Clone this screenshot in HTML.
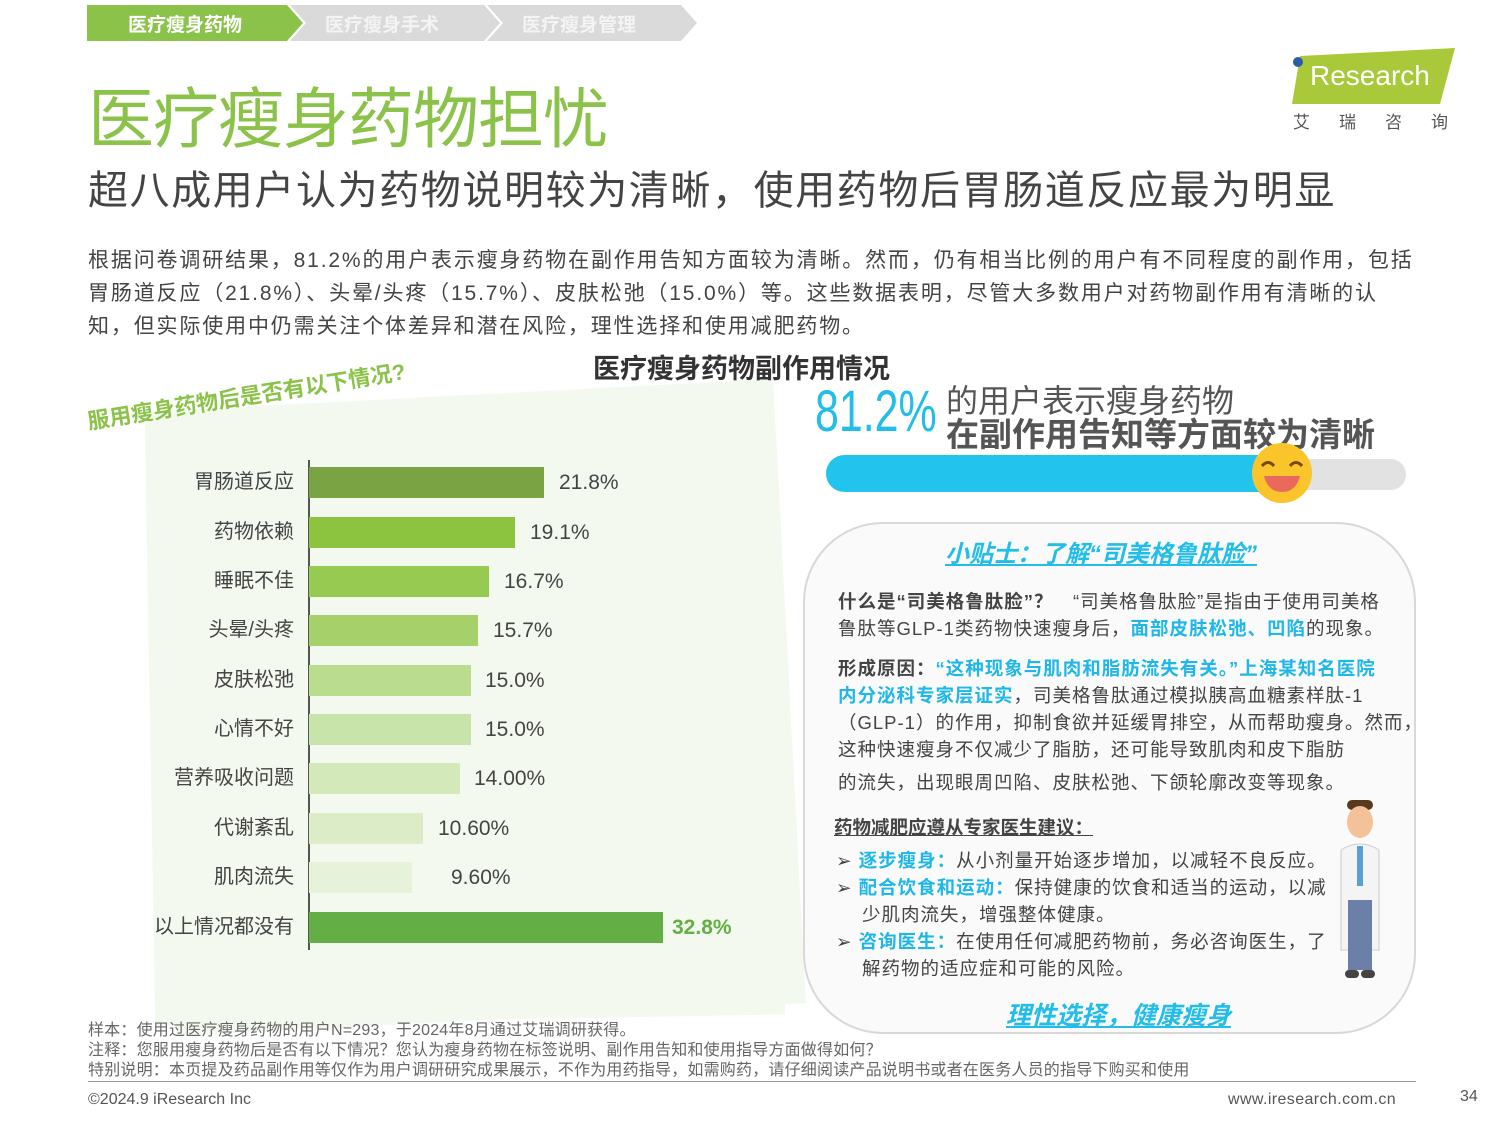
<!DOCTYPE html>
<html><head><meta charset="utf-8"><style>
*{margin:0;padding:0;box-sizing:border-box}
body{width:1500px;height:1125px;background:#fff;position:relative;overflow:hidden;font-family:"Liberation Sans","Noto Sans CJK SC",sans-serif;color:#3c3c3c}
.a{position:absolute;white-space:nowrap}
.bar{position:absolute;left:309px;height:31px}
.lab{position:absolute;right:1206px;font-size:20px;color:#444;line-height:31px;text-align:right}
.val{position:absolute;font-size:21px;color:#444;line-height:31px}
.b{color:#1fb7e8;font-weight:bold}
.t{font-size:18.5px;color:#444;line-height:27px;letter-spacing:1px}
</style></head><body>
<div class="a" style="left:160px;top:395px;width:630px;height:625px;background:#f0f7ea;transform:rotate(-3deg);opacity:.7"></div>
<div class="a" style="left:150px;top:420px;width:630px;height:600px;background:#f4f9f0;transform:rotate(-1deg)"></div>
<svg class="a" style="left:0;top:0" width="720" height="45">
<polygon points="87,5 287,5 303,23 287,41 87,41" fill="#8bc34a"/>
<polygon points="290,5 484,5 500,23 484,41 290,41 306,23" fill="#dadada"/>
<polygon points="487,5 681,5 697,23 681,41 487,41 503,23" fill="#dadada"/>
</svg>
<div class="a" style="left:128px;top:10px;font-size:19px;font-weight:bold;color:#fff">医疗瘦身药物</div>
<div class="a" style="left:325px;top:10px;font-size:19px;font-weight:bold;color:#f4f4f4">医疗瘦身手术</div>
<div class="a" style="left:522px;top:10px;font-size:19px;font-weight:bold;color:#f4f4f4">医疗瘦身管理</div>
<div class="a" style="left:88px;top:66px;font-size:66px;color:#8bc34a;letter-spacing:-1px">医疗瘦身药物担忧</div>
<div class="a" style="left:88px;top:158px;font-size:40px;color:#444;letter-spacing:1.6px">超八成用户认为药物说明较为清晰，使用药物后胃肠道反应最为明显</div>
<svg class="a" style="left:1290px;top:48px" width="170" height="60"><polygon points="10,8 165,0 150,56 2,56" fill="#a9c93a"/><circle cx="8" cy="14" r="5" fill="#2a5ca8"/></svg>
<div class="a" style="left:1310px;top:60px;font-size:28px;color:#fff">Research</div>
<div class="a" style="left:1293px;top:108px;font-size:17px;color:#555;letter-spacing:29px">艾瑞咨询</div>
<div class="a" style="left:88px;top:244px;font-size:21px;line-height:33px;color:#444;letter-spacing:1.85px">根据问卷调研结果，81.2%的用户表示瘦身药物在副作用告知方面较为清晰。然而，仍有相当比例的用户有不同程度的副作用，包括<br>胃肠道反应（21.8%）、头晕/头疼（15.7%）、皮肤松弛（15.0%）等。这些数据表明，尽管大多数用户对药物副作用有清晰的认<br>知，但实际使用中仍需关注个体差异和潜在风险，理性选择和使用减肥药物。</div>
<div class="a" style="left:593px;top:347px;font-size:27px;font-weight:bold;color:#333">医疗瘦身药物副作用情况</div>
<div class="a" style="left:90px;top:404px;font-size:22px;font-weight:bold;color:#8bc34a;transform:rotate(-9deg);transform-origin:left bottom">服用瘦身药物后是否有以下情况?</div>
<div class="a" style="left:308px;top:460px;width:2px;height:490px;background:#555"></div>
<div class="bar" style="top:467px;width:235px;background:#7aa444"></div>
<div class="bar" style="top:517px;width:206px;background:#8cc43f"></div>
<div class="bar" style="top:566px;width:180px;background:#97ca50"></div>
<div class="bar" style="top:615px;width:169px;background:#a5d06a"></div>
<div class="bar" style="top:665px;width:162px;background:#b9dc8e"></div>
<div class="bar" style="top:714px;width:162px;background:#c9e4ab"></div>
<div class="bar" style="top:763px;width:151px;background:#d3e9ba"></div>
<div class="bar" style="top:813px;width:114px;background:#dbecc6"></div>
<div class="bar" style="top:862px;width:103px;background:#e6f2da"></div>
<div class="bar" style="top:912px;width:354px;background:#64af45"></div>
<div class="lab" style="top:467px">胃肠道反应</div>
<div class="lab" style="top:517px">药物依赖</div>
<div class="lab" style="top:566px">睡眠不佳</div>
<div class="lab" style="top:615px">头晕/头疼</div>
<div class="lab" style="top:665px">皮肤松弛</div>
<div class="lab" style="top:714px">心情不好</div>
<div class="lab" style="top:763px">营养吸收问题</div>
<div class="lab" style="top:813px">代谢紊乱</div>
<div class="lab" style="top:862px">肌肉流失</div>
<div class="lab" style="top:912px">以上情况都没有</div>
<div class="val" style="left:559px;top:467px">21.8%</div>
<div class="val" style="left:530px;top:517px">19.1%</div>
<div class="val" style="left:504px;top:566px">16.7%</div>
<div class="val" style="left:493px;top:615px">15.7%</div>
<div class="val" style="left:485px;top:665px">15.0%</div>
<div class="val" style="left:485px;top:714px">15.0%</div>
<div class="val" style="left:474px;top:763px">14.00%</div>
<div class="val" style="left:438px;top:813px">10.60%</div>
<div class="val" style="left:451px;top:862px">9.60%</div>
<div class="val" style="left:672px;top:912px;color:#64af45;font-weight:bold">32.8%</div>
<div class="a" style="left:815px;top:378px;font-size:58px;color:#23bde9;transform:scaleX(.74);transform-origin:left">81.2%</div>
<div class="a" style="left:946px;top:376px;font-size:32px;color:#555">的用户表示瘦身药物</div>
<div class="a" style="left:946px;top:408px;font-size:33px;color:#555;font-weight:bold">在副作用告知等方面较为清晰</div>
<div class="a" style="left:826px;top:459px;width:580px;height:31px;border-radius:16px;background:#e2e2e2"></div>
<div class="a" style="left:826px;top:455px;width:470px;height:37px;border-radius:19px;background:#22c4ee"></div>
<svg class="a" style="left:1250px;top:442px" width="66" height="62"><ellipse cx="32" cy="31" rx="30" ry="30" fill="#f9c52b"/><path d="M12,24 q6,-7 12,0 M40,24 q6,-7 12,0" stroke="#7a4a00" stroke-width="3" fill="none"/><path d="M14,34 h36 q-4,16 -18,16 q-14,0 -18,-16z" fill="#e96a5c"/></svg>
<div class="a" style="left:803px;top:522px;width:613px;height:512px;border:2px solid #d8d8d8;border-radius:80px;background:#fafafa"></div>
<div class="a" style="left:945px;top:534px;font-size:24px;font-weight:bold;font-style:italic;color:#23bde9;text-decoration:underline">小贴士：了解“司美格鲁肽脸”</div>
<div class="a t" style="left:838px;top:588px"><b>什么是“司美格鲁肽脸”？</b>　“司美格鲁肽脸”是指由于使用司美格</div>
<div class="a t" style="left:838px;top:615px">鲁肽等GLP-1类药物快速瘦身后，<span class="b">面部皮肤松弛、凹陷</span>的现象。</div>
<div class="a t" style="left:838px;top:655px"><b>形成原因：</b><span class="b">“这种现象与肌肉和脂肪流失有关。”上海某知名医院</span></div>
<div class="a t" style="left:838px;top:682px"><span class="b">内分泌科专家层证实</span>，司美格鲁肽通过模拟胰高血糖素样肽-1</div>
<div class="a t" style="left:838px;top:709px">（GLP-1）的作用，抑制食欲并延缓胃排空，从而帮助瘦身。然而，</div>
<div class="a t" style="left:838px;top:736px">这种快速瘦身不仅减少了脂肪，还可能导致肌肉和皮下脂肪</div>
<div class="a t" style="left:838px;top:769px">的流失，出现眼周凹陷、皮肤松弛、下颌轮廓改变等现象。</div>
<div class="a t" style="left:834px;top:814px;font-weight:bold;text-decoration:underline;letter-spacing:0">药物减肥应遵从专家医生建议：</div>
<div class="a t" style="left:836px;top:847px">➢ <span class="b">逐步瘦身：</span>从小剂量开始逐步增加，以减轻不良反应。</div>
<div class="a t" style="left:836px;top:874px">➢ <span class="b">配合饮食和运动：</span>保持健康的饮食和适当的运动，以减</div>
<div class="a t" style="left:862px;top:901px">少肌肉流失，增强整体健康。</div>
<div class="a t" style="left:836px;top:928px">➢ <span class="b">咨询医生：</span>在使用任何减肥药物前，务必咨询医生，了</div>
<div class="a t" style="left:862px;top:955px">解药物的适应症和可能的风险。</div>
<svg class="a" style="left:1335px;top:800px" width="50" height="190"><rect x="12" y="0" width="26" height="10" rx="5" fill="#5a3a1e"/><ellipse cx="25" cy="22" rx="13" ry="16" fill="#f3c29a"/><path d="M6,50 q19,-12 38,0 v100 h-38z" fill="#f4f4f4" stroke="#ccc"/><rect x="22" y="46" width="6" height="40" fill="#5aa0d0"/><rect x="13" y="100" width="24" height="70" fill="#6c7fa8"/><rect x="10" y="170" width="14" height="8" rx="4" fill="#444"/><rect x="26" y="170" width="14" height="8" rx="4" fill="#444"/></svg>
<div class="a" style="left:1006px;top:996px;font-size:25px;font-weight:bold;font-style:italic;color:#23bde9;text-decoration:underline">理性选择，健康瘦身</div>
<div class="a" style="left:88px;top:1021px;font-size:16px;color:#666;line-height:20px;letter-spacing:.2px">样本：使用过医疗瘦身药物的用户N=293，于2024年8月通过艾瑞调研获得。<br>注释：您服用瘦身药物后是否有以下情况？您认为瘦身药物在标签说明、副作用告知和使用指导方面做得如何？<br>特别说明：本页提及药品副作用等仅作为用户调研研究成果展示，不作为用药指导，如需购药，请仔细阅读产品说明书或者在医务人员的指导下购买和使用</div>
<div class="a" style="left:88px;top:1081px;width:1328px;height:1px;background:#999"></div>
<div class="a" style="left:88px;top:1091px;font-size:16px;color:#555">©2024.9 iResearch Inc</div>
<div class="a" style="left:1228px;top:1091px;font-size:16px;color:#555;letter-spacing:.4px">www.iresearch.com.cn</div>
<div class="a" style="left:1460px;top:1088px;font-size:16px;color:#555">34</div>
</body></html>
